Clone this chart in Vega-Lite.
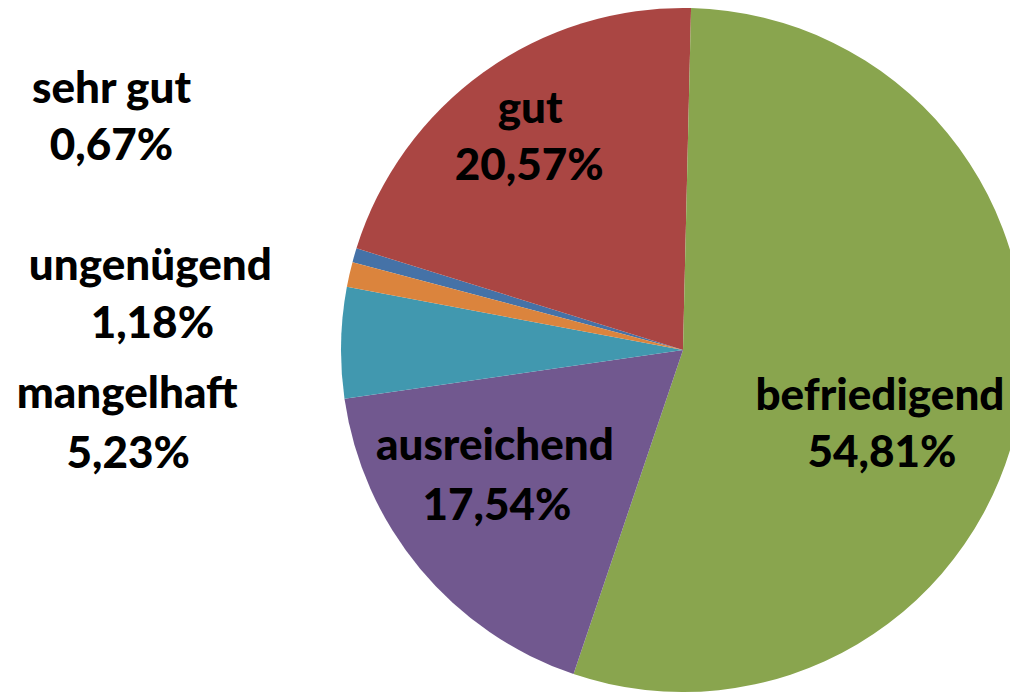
{
  "$schema": "https://vega.github.io/schema/vega-lite/v6.json",
  "width": 1366,
  "height": 700,
  "autosize": "none",
  "padding": 0,
  "background": "white",
  "config": {
    "view": {"stroke": null},
    "locale": {"number": {"decimal": ",", "thousands": ".", "grouping": [3], "currency": ["", " €"]}},
    "text": {"font": "Lato", "fontWeight": 900, "fontSize": 44, "align": "center", "baseline": "alphabetic", "fill": "black"}
  },
  "data": {
    "values": [
      {"name": "sehr gut", "share": 0.0067, "order": 1},
      {"name": "gut", "share": 0.2057, "order": 2},
      {"name": "befriedigend", "share": 0.5481, "order": 3},
      {"name": "ausreichend", "share": 0.1754, "order": 4},
      {"name": "mangelhaft", "share": 0.0523, "order": 5},
      {"name": "ungenügend", "share": 0.0118, "order": 6}
    ]
  },
  "encoding": {
    "theta": {"field": "share", "type": "quantitative", "stack": true, "scale": {"domain": [0, 1], "range": [4.9722, 11.2554]}},
    "order": {"field": "order", "type": "quantitative"}
  },
  "layer": [
    {
      "mark": {"type": "arc", "outerRadius": 342},
      "encoding": {
        "color": {"field": "name", "type": "nominal", "legend": null,
          "scale": {"domain": ["sehr gut", "gut", "befriedigend", "ausreichend", "mangelhaft", "ungenügend"],
                    "range": ["#4572A7", "#AA4643", "#89A54E", "#71588F", "#4198AF", "#DB843D"]}}
      }
    },
    {"mark": {"type": "text", "radius": 600, "dx": 5, "dy": -81},
     "encoding": {"detail": {"field": "name"}, "text": {"condition": {"test": "datum.name === 'sehr gut'", "field": "name"}, "value": ""}}},
    {"mark": {"type": "text", "radius": 600, "dx": 5, "dy": -24},
     "encoding": {"detail": {"field": "name"}, "text": {"condition": {"test": "datum.name === 'sehr gut'", "field": "share", "type": "quantitative", "format": ".2%"}, "value": ""}}},
    {"mark": {"type": "text", "radius": 540, "dx": -6, "dy": 49},
     "encoding": {"detail": {"field": "name"}, "text": {"condition": {"test": "datum.name === 'ungenügend'", "field": "name"}, "value": ""}}},
    {"mark": {"type": "text", "radius": 540, "dx": -4, "dy": 107},
     "encoding": {"detail": {"field": "name"}, "text": {"condition": {"test": "datum.name === 'ungenügend'", "field": "share", "type": "quantitative", "format": ".2%"}, "value": ""}}},
    {"mark": {"type": "text", "radius": 556, "dx": 0, "dy": 70},
     "encoding": {"detail": {"field": "name"}, "text": {"condition": {"test": "datum.name === 'mangelhaft'", "field": "name"}, "value": ""}}},
    {"mark": {"type": "text", "radius": 556, "dx": 1, "dy": 130},
     "encoding": {"detail": {"field": "name"}, "text": {"condition": {"test": "datum.name === 'mangelhaft'", "field": "share", "type": "quantitative", "format": ".2%"}, "value": ""}}},
    {"mark": {"type": "text", "radius": 250, "dx": -7, "dy": -24},
     "encoding": {"detail": {"field": "name"}, "text": {"condition": {"test": "datum.name === 'gut'", "field": "name"}, "value": ""}}},
    {"mark": {"type": "text", "radius": 250, "dx": -8, "dy": 33},
     "encoding": {"detail": {"field": "name"}, "text": {"condition": {"test": "datum.name === 'gut'", "field": "share", "type": "quantitative", "format": ".2%"}, "value": ""}}},
    {"mark": {"type": "text", "radius": 200, "dx": 0, "dy": 25},
     "encoding": {"detail": {"field": "name"}, "text": {"condition": {"test": "datum.name === 'befriedigend'", "field": "name"}, "value": ""}}},
    {"mark": {"type": "text", "radius": 200, "dx": 2, "dy": 82},
     "encoding": {"detail": {"field": "name"}, "text": {"condition": {"test": "datum.name === 'befriedigend'", "field": "share", "type": "quantitative", "format": ".2%"}, "value": ""}}},
    {"mark": {"type": "text", "radius": 220, "dx": -19, "dy": -31},
     "encoding": {"detail": {"field": "name"}, "text": {"condition": {"test": "datum.name === 'ausreichend'", "field": "name"}, "value": ""}}},
    {"mark": {"type": "text", "radius": 220, "dx": -17, "dy": 29},
     "encoding": {"detail": {"field": "name"}, "text": {"condition": {"test": "datum.name === 'ausreichend'", "field": "share", "type": "quantitative", "format": ".2%"}, "value": ""}}}
  ]
}
